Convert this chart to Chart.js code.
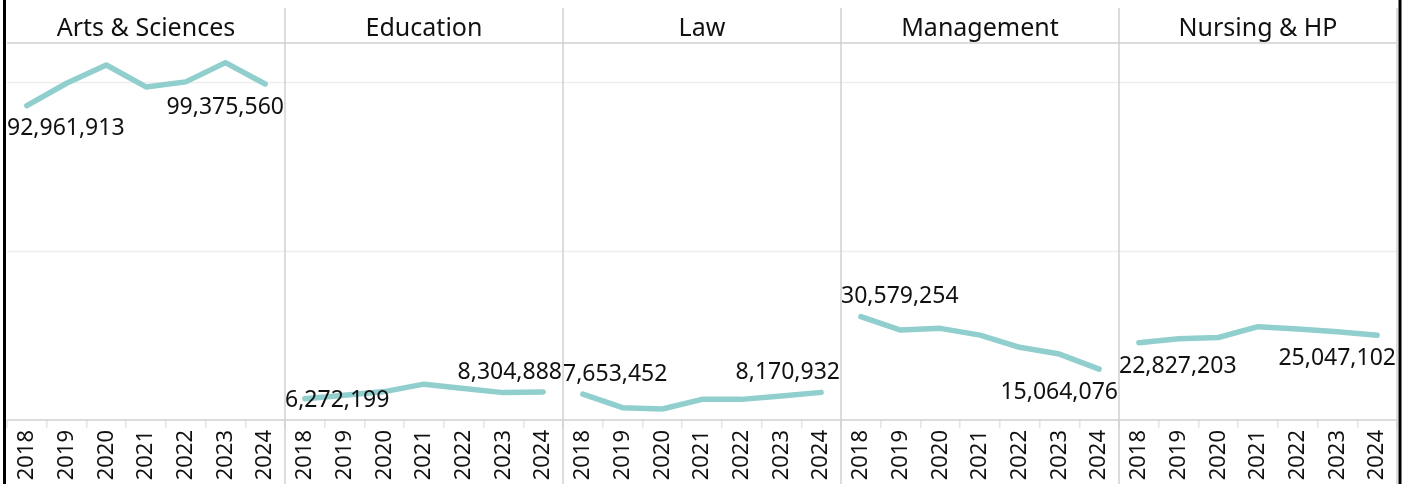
<!DOCTYPE html>
<html>
<head>
<meta charset="utf-8">
<script src="https://cdn.jsdelivr.net/npm/chart.js@4.4.1/dist/chart.umd.min.js"></script>
<style>
html,body{margin:0;padding:0;background:#fff;}
#wrap{width:1410px;height:484px;position:relative;}
</style>
</head>
<body>
<div id="wrap"><canvas id="c" width="1410" height="484"></canvas></div>
<script>
// ---- data ----
const categories = ['Arts & Sciences', 'Education', 'Law', 'Management', 'Nursing & HP'];
const years = ['2018', '2019', '2020', '2021', '2022', '2023', '2024'];
const artsSciences = [92961913, 99600000, 105000000, 98500000, 100000000, 105700000, 99375560];
const education   = [6272199, 7300000, 8400000, 10600000, 9300000, 8100000, 8304888];
const law         = [7653452, 3650000, 3250000, 6100000, 6100000, 7100000, 8170932];
const management  = [30579254, 26600000, 27100000, 25100000, 21500000, 19500000, 15064076];
const nursingHP   = [22827203, 24000000, 24400000, 27600000, 26900000, 26100000, 25047102];
const gridValues  = [50000000, 100000000];
const yMax = 111500000;

const seriesList = [artsSciences, education, law, management, nursingHP];
// label placement (not data): vertical side of the first / last label in each panel
const firstLabelSide = ['below', 'center', 'above', 'above', 'below'];
const lastLabelSide  = ['below', 'above', 'above', 'below', 'below'];

const FONT = '"Noto Sans", "Open Sans", sans-serif';
const LINE_COLOR = '#90cfce';

const n = years.length;
const allLabels = [];
categories.forEach(() => years.forEach(y => allLabels.push(y)));
const datasets = seriesList.map((s, d) => {
  const arr = new Array(allLabels.length).fill(null);
  s.forEach((v, i) => { arr[d * n + i] = v; });
  return {
    label: categories[d], data: arr,
    borderColor: LINE_COLOR, backgroundColor: LINE_COLOR,
    borderWidth: 5.5, pointRadius: 0, pointHoverRadius: 0,
    tension: 0, spanGaps: false, borderCapStyle: 'round', borderJoinStyle: 'round'
  };
});

const fmt = v => v.toLocaleString('en-US');

const framePlugin = {
  id: 'frame',
  beforeDatasetsDraw(chart) {
    const {ctx, chartArea: a, scales: {x, y}} = chart;
    const H = chart.height;
    const headerTop = 8;
    ctx.save();
    ctx.strokeStyle = '#ededed'; ctx.lineWidth = 1.5;
    gridValues.forEach(v => {
      const py = Math.round(y.getPixelForValue(v)) + 0.5;
      ctx.beginPath(); ctx.moveTo(a.left, py); ctx.lineTo(a.right, py); ctx.stroke();
    });
    ctx.strokeStyle = '#d0d0d0'; ctx.lineWidth = 1.5;
    [a.top, y.getPixelForValue(0)].forEach(py => {
      ctx.beginPath(); ctx.moveTo(a.left, py); ctx.lineTo(a.right, py); ctx.stroke();
    });
    const step = x.getPixelForValue(1) - x.getPixelForValue(0);
    for (let d = 1; d <= categories.length; d++) {
      const px = x.getPixelForValue(d * n - 1) + step / 2;
      ctx.beginPath(); ctx.moveTo(px, headerTop); ctx.lineTo(px, H); ctx.stroke();
    }
    ctx.strokeStyle = '#000'; ctx.lineWidth = 3;
    ctx.beginPath(); ctx.moveTo(4.5, 0); ctx.lineTo(4.5, H); ctx.stroke();
    ctx.beginPath(); ctx.moveTo(1400, 0); ctx.lineTo(1400, H); ctx.stroke();
    ctx.fillStyle = '#111'; ctx.font = '25px ' + FONT;
    ctx.textAlign = 'center'; ctx.textBaseline = 'alphabetic';
    categories.forEach((c, d) => {
      const cx = (x.getPixelForValue(d * n) + x.getPixelForValue(d * n + n - 1)) / 2;
      ctx.fillText(c, cx, 36);
    });
    ctx.restore();
  },
  afterDatasetsDraw(chart) {
    const {ctx, scales: {x}} = chart;
    const step = x.getPixelForValue(1) - x.getPixelForValue(0);
    ctx.save();
    ctx.fillStyle = '#111'; ctx.font = '23px ' + FONT; ctx.textBaseline = 'alphabetic';
    const half = 8.2, off = 21.5;
    const dyFor = s => s === 'below' ? off : (s === 'above' ? -off : 0);
    seriesList.forEach((s, d) => {
      const meta = chart.getDatasetMeta(d);
      const p0 = meta.data[d * n], p1 = meta.data[d * n + n - 1];
      const left = x.getPixelForValue(d * n) - step / 2;
      const right = x.getPixelForValue(d * n + n - 1) + step / 2;
      ctx.textAlign = 'left';
      ctx.fillText(fmt(s[0]), left, p0.y + dyFor(firstLabelSide[d]) + half);
      ctx.textAlign = 'right';
      ctx.fillText(fmt(s[n - 1]), right - 1, p1.y + dyFor(lastLabelSide[d]) + half);
    });
    ctx.restore();
  }
};

new Chart(document.getElementById('c'), {
  type: 'line',
  data: {labels: allLabels, datasets},
  options: {
    responsive: false, animation: false, devicePixelRatio: 1,
    layout: {padding: {left: 7, right: 13, top: 43, bottom: 0}},
    plugins: {legend: {display: false}, tooltip: {enabled: false}},
    scales: {
      x: {
        type: 'category', offset: true,
        grid: {display: true, offset: true, drawOnChartArea: false, drawTicks: true,
               tickLength: 8, tickColor: '#e4e4e4', lineWidth: 1.5},
        border: {display: false},
        ticks: {autoSkip: false, minRotation: 90, maxRotation: 90, padding: 2,
                color: '#111', font: {family: FONT, size: 22}},
        afterFit(s) { s.height = 64; }
      },
      y: {display: false, min: 0, max: yMax}
    }
  },
  plugins: [framePlugin]
});
</script>
</body>
</html>
